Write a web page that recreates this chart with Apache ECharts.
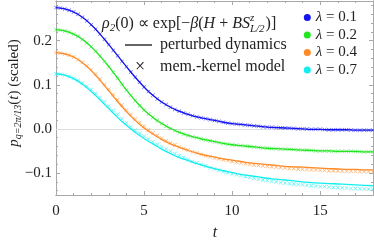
<!DOCTYPE html>
<html>
<head>
<meta charset="utf-8">
<script src="https://cdn.jsdelivr.net/npm/echarts@6/dist/echarts.min.js"></script>
<style>html,body{margin:0;padding:0;background:#fff}#c{width:374px;height:246px}</style>
</head>
<body>
<div id="c"></div>
<script>
// ---- data ----
const lambdas = ['0.1', '0.2', '0.4', '0.7'];
const colors = ['#1414f0', '#22e622', '#ff8a26', '#12eef0'];
const lineStep = 0.5;   // time step of the solid curves
const crossStep = 0.25; // time step of the crosses
// solid lines: perturbed dynamics, t = 0, 0.5, ..., 18
const line01 = [.275,.272,.265,.253,.236,.215,.191,.166,.141,.117,.095,.076,.061,.049,.040,.033,.027,.023,.019,.015,.012,.010,.008,.006,.004,.003,.002,.001,.000,-.001,-.001,-.002,-.002,-.002,-.003,-.003,-.003];
const line02 = [.225,.222,.215,.203,.186,.165,.141,.115,.088,.064,.043,.026,.012,.001,-.008,-.015,-.020,-.025,-.029,-.033,-.036,-.038,-.040,-.042,-.044,-.045,-.046,-.047,-.048,-.049,-.050,-.050,-.051,-.051,-.051,-.052,-.052];
const line04 = [.173,.170,.163,.150,.132,.110,.086,.062,.039,.019,.002,-.012,-.024,-.034,-.042,-.049,-.055,-.060,-.064,-.068,-.071,-.074,-.077,-.079,-.081,-.083,-.085,-.086,-.087,-.088,-.089,-.090,-.091,-.092,-.092,-.093,-.093];
const line07 = [.125,.122,.114,.101,.085,.066,.046,.026,.008,-.008,-.022,-.034,-.046,-.056,-.065,-.072,-.079,-.085,-.090,-.095,-.099,-.103,-.106,-.109,-.112,-.114,-.116,-.118,-.120,-.122,-.123,-.124,-.125,-.126,-.127,-.128,-.129];
// crosses: memory-kernel model, t = 0, 0.25, ..., 18
const cross01 = [.275,.274,.272,.269,.265,.260,.253,.245,.236,.226,.215,.203,.191,.178,.166,.153,.141,.129,.117,.106,.095,.085,.076,.068,.061,.055,.049,.044,.040,.036,.033,.030,.027,.025,.023,.021,.019,.017,.015,.013,.012,.011,.010,.009,.008,.007,.006,.005,.004,.0035,.003,.0025,.002,.0015,.001,.0005,.000,-.0005,-.001,-.001,-.001,-.0015,-.002,-.002,-.002,-.002,-.002,-.0025,-.003,-.003,-.003,-.003,-.003];
const cross02 = [.225,.224,.222,.219,.215,.210,.203,.195,.186,.176,.165,.153,.141,.128,.115,.101,.088,.076,.064,.053,.043,.034,.026,.019,.012,.006,.001,-.004,-.008,-.012,-.015,-.018,-.020,-.023,-.025,-.027,-.029,-.031,-.033,-.035,-.036,-.037,-.038,-.039,-.040,-.041,-.042,-.043,-.044,-.0445,-.045,-.0455,-.046,-.0465,-.047,-.0475,-.048,-.0485,-.049,-.0495,-.050,-.050,-.050,-.0505,-.051,-.051,-.051,-.051,-.0515,-.0515,-.052,-.052,-.052];
const cross04 = [.173,.172,.170,.167,.163,.157,.151,.143,.134,.124,.113,.101,.090,.078,.066,.054,.043,.033,.023,.014,.006,-.002,-.009,-.015,-.021,-.027,-.032,-.036,-.041,-.045,-.048,-.052,-.055,-.058,-.061,-.063,-.066,-.068,-.070,-.072,-.074,-.076,-.077,-.079,-.080,-.082,-.083,-.084,-.085,-.086,-.087,-.088,-.089,-.090,-.090,-.091,-.092,-.092,-.093,-.093,-.094,-.094,-.095,-.095,-.095,-.096,-.096,-.096,-.096,-.097,-.097,-.097,-.097];
const cross07 = [.125,.124,.122,.119,.115,.110,.104,.097,.089,.080,.071,.062,.052,.042,.033,.023,.014,.005,-.003,-.010,-.017,-.023,-.029,-.035,-.041,-.046,-.051,-.056,-.061,-.065,-.070,-.074,-.077,-.081,-.084,-.088,-.091,-.094,-.097,-.099,-.102,-.104,-.106,-.108,-.110,-.112,-.114,-.116,-.117,-.119,-.120,-.122,-.123,-.124,-.125,-.126,-.127,-.128,-.129,-.130,-.131,-.131,-.132,-.133,-.133,-.134,-.134,-.135,-.135,-.136,-.136,-.137,-.137];
// ticks
const xMajor = [0, 5, 10, 15];
const xMinor = [1,2,3,4,6,7,8,9,11,12,13,14,16,17];
const yMajor = [-0.1, 0, 0.1, 0.2];
const yMinor = [-0.14,-0.12,-0.08,-0.06,-0.04,-0.02,0.02,0.04,0.06,0.08,0.12,0.14,0.16,0.18,0.22,0.24,0.26,0.28];
const xRange = [0, 18];
const yRange = [-0.15, 0.29];

const lines = [line01, line02, line04, line07];
const crosses = [cross01, cross02, cross04, cross07];
const toPairs = (arr, step) => arr.map((v, i) => [i * step, v]);

const serif = 'Liberation Serif';
const frame = '#a8a8a8';
const fmtY = v => (v < 0 ? '\u2212' : '') + Math.abs(v).toFixed(1);

function xAx(pos, ticks, len, labels) {
  return {
    type: 'value', position: pos, min: xRange[0], max: xRange[1],
    axisLine: {show: true, onZero: false, lineStyle: {color: frame, width: 1}},
    axisTick: {show: true, inside: true, length: len, customValues: ticks, lineStyle: {color: frame}},
    axisLabel: labels ? {show: true, customValues: xMajor, margin: 9, fontFamily: serif, fontSize: 15, color: '#222'} : {show: false},
    splitLine: {show: false}, minorTick: {show: false}
  };
}
function yAx(pos, ticks, len, labels) {
  return {
    type: 'value', position: pos, min: yRange[0], max: yRange[1],
    axisLine: {show: true, onZero: false, lineStyle: {color: frame, width: 1}},
    axisTick: {show: true, inside: true, length: len, customValues: ticks, lineStyle: {color: frame}},
    axisLabel: labels ? {show: true, customValues: yMajor, formatter: fmtY, margin: 4, fontFamily: serif, fontSize: 15, color: '#222'} : {show: false},
    splitLine: {show: false}, minorTick: {show: false}
  };
}

const xPath = 'path://M0,1L1,0L5,4L9,0L10,1L6,5L10,9L9,10L5,6L1,10L0,9L4,5Z';

const series = [];
lambdas.forEach((l, k) => {
  const s = {
    name: 'λ = ' + l, type: 'line', smooth: true, showSymbol: false, symbol: 'none',
    data: toPairs(lines[k], lineStep), lineStyle: {color: colors[k], width: 1.3},
    itemStyle: {color: colors[k]}, z: 3, animation: false
  };
  if (k === 0) {
    s.markLine = {silent: true, symbol: ['none', 'none'], label: {show: false},
      lineStyle: {color: '#dcdcdc', width: 1, type: 'solid'}, data: [{yAxis: 0}], z: 1, animation: false};
  }
  series.push(s);
});
lambdas.forEach((l, k) => {
  series.push({
    name: 'mk ' + l, type: 'scatter', symbol: xPath, symbolSize: 4,
    data: toPairs(crosses[k], crossStep), itemStyle: {color: colors[k], opacity: 0.75}, z: 4, animation: false
  });
});

// measure text widths to place the stacked sup/sub of S
const AF = 16;
const ctx = document.createElement('canvas').getContext('2d');
function w(txt, italic, size) { ctx.font = (italic ? 'italic ' : '') + size + 'px "' + serif + '"'; return ctx.measureText(txt).width; }
const ex0 = 102;
const exA = w('ρ', 1, AF) + w('2', 1, 11) + w('(0) ∝ exp[−', 0, AF) + w('β', 1, AF) + w('(', 0, AF) + w('H', 1, AF) + w(' + ', 0, AF) + w('BS', 1, AF);
const exSub = w('L/2', 1, 11);
const rI = {fontFamily: serif, fontStyle: 'italic', fontSize: AF};
const rN = {fontFamily: serif, fontSize: AF};
const rS = {fontFamily: serif, fontStyle: 'italic', fontSize: 11, padding: [8, 0, 0, 0]};

const chart = echarts.init(document.getElementById('c'), null, {renderer: 'canvas'});
chart.setOption({
  animation: false,
  grid: {left: 56, right: 1, top: 1, bottom: 51, containLabel: false},
  xAxis: [xAx('bottom', xMajor, 4, true), xAx('bottom', xMinor, 2, false), xAx('top', xMajor, 4, false), xAx('top', xMinor, 2, false)],
  yAxis: [yAx('left', yMajor, 4, true), yAx('left', yMinor, 2, false), yAx('right', yMajor, 4, false), yAx('right', yMinor, 2, false)],
  legend: {
    show: true, orient: 'vertical', right: 12, top: 5, icon: 'circle', itemWidth: 7, itemHeight: 7, itemGap: 2.5,
    data: lambdas.map(l => 'λ = ' + l),
    formatter: n => '{i|λ}{n|' + n.slice(1) + '}',
    textStyle: {fontFamily: serif, fontSize: 15, color: '#222', rich: {i: {fontStyle: 'italic', fontFamily: serif, fontSize: 15}, n: {fontFamily: serif, fontSize: 15}}}
  },
  graphic: [
    {type: 'text', x: ex0, y: 24, style: {
      text: '{i|ρ}{sub|2}{n|(0) ∝ exp[−}{i|β}{n|(}{i|H}{n| + }{i|BS}',
      verticalAlign: 'middle', fill: '#222', rich: {i: rI, n: rN, sub: rS}
    }},
    {type: 'text', x: ex0 + exA, y: 18, style: {text: 'z', fontFamily: serif, fontStyle: 'italic', fontSize: 11, fill: '#222', verticalAlign: 'middle'}},
    {type: 'text', x: ex0 + exA, y: 29, style: {text: 'L/2', fontFamily: serif, fontStyle: 'italic', fontSize: 11, fill: '#222', verticalAlign: 'middle'}},
    {type: 'text', x: ex0 + exA + exSub + 1, y: 24, style: {text: ')]', fontFamily: serif, fontSize: AF, fill: '#222', verticalAlign: 'middle'}},
    {type: 'line', shape: {x1: 125, y1: 45, x2: 152, y2: 45}, style: {stroke: '#111', lineWidth: 1.3}},
    {type: 'text', x: 160, y: 45, style: {text: 'perturbed dynamics', fontFamily: serif, fontSize: AF, fill: '#222', verticalAlign: 'middle'}},
    {type: 'text', x: 140, y: 67, style: {text: '×', fontFamily: serif, fontSize: 18, fill: '#111', align: 'center', verticalAlign: 'middle'}},
    {type: 'text', x: 160, y: 67, style: {text: 'mem.-kernel model', fontFamily: serif, fontSize: AF, fill: '#222', verticalAlign: 'middle'}},
    {type: 'text', x: 215, y: 233, style: {text: 't', fontFamily: serif, fontStyle: 'italic', fontSize: 16, fill: '#222', align: 'center', verticalAlign: 'middle'}},
    {type: 'text', x: 14, y: 93, rotation: Math.PI / 2, style: {
      text: '{i|p}{sub|q=2π/13}{n|(}{i|t}{n|) (scaled)}', align: 'center', verticalAlign: 'middle', fill: '#222',
      rich: {i: {fontFamily: serif, fontStyle: 'italic', fontSize: 15}, n: {fontFamily: serif, fontSize: 15},
             sub: {fontFamily: serif, fontStyle: 'italic', fontSize: 10, padding: [8, 0, 0, 0]}}
    }}
  ],
  series: series
});
</script>
</body>
</html>
